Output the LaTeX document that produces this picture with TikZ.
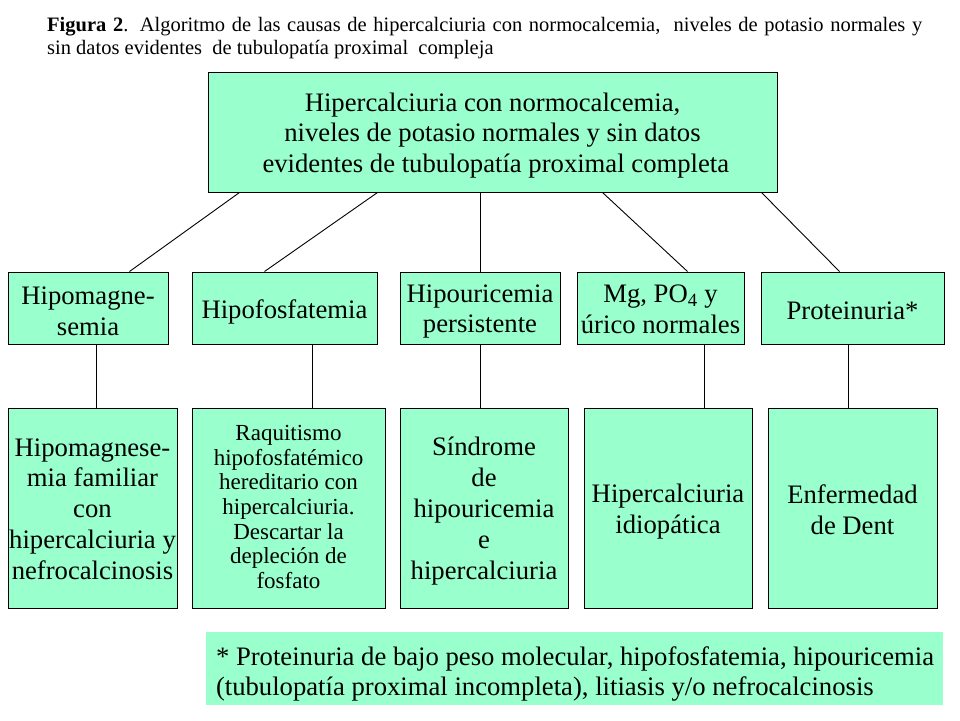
\documentclass[tikz,border=0pt]{standalone}
\usepackage{fontspec}
\setmainfont{Liberation Serif}
\definecolor{mint}{HTML}{99FFCC}
\begin{document}
\begin{tikzpicture}[x=1pt,y=-1pt,
  box/.style={draw=black, line width=1pt, fill=mint, inner sep=0pt},
  lbl/.style={inner sep=0pt, align=center, font=\fontsize{26.67}{30.8}\selectfont},
  smalllbl/.style={lbl, font=\fontsize{23}{24.7}\selectfont},
  conn/.style={line width=0.9pt, draw=black}]
\useasboundingbox (0,0) rectangle (960,720);

\node[anchor=north west, inner sep=0pt, align=left, font=\fontsize{20.5}{23}\selectfont] (title) at (47,17.5)
  {\makebox[875pt][s]{\textbf{Figura 2}. Algoritmo de las causas de hipercalciuria\ con normocalcemia,\ \ niveles de potasio normales y}\\
   sin datos evidentes\ \ de tubulopatía proximal\ \ compleja};

% boxes
\node[box, minimum width=569pt, minimum height=120pt] (top) at (492.5,132) {};
\node[box, minimum width=160pt, minimum height=72pt] (m1) at (88,308) {};
\node[box, minimum width=185pt, minimum height=72pt] (m2) at (284.5,308) {};
\node[box, minimum width=160pt, minimum height=72pt] (m3) at (480,308) {};
\node[box, minimum width=167pt, minimum height=72pt] (m4) at (660.5,308) {};
\node[box, minimum width=183pt, minimum height=72pt] (m5) at (852.5,308) {};
\node[box, minimum width=169pt, minimum height=200pt] (b1) at (92.5,508) {};
\node[box, minimum width=193pt, minimum height=200pt] (b2) at (288.5,508) {};
\node[box, minimum width=168pt, minimum height=200pt] (b3) at (484,508) {};
\node[box, minimum width=168pt, minimum height=200pt] (b4) at (668,508) {};
\node[box, minimum width=169pt, minimum height=200pt] (b5) at (852.5,508) {};
\node[fill=mint, minimum width=737pt, minimum height=73pt, inner sep=0pt] (note) at (574.5,668.5) {};

% texts
\node[lbl] (topt) at ([yshift=-3.5pt]top.center)
  {Hipercalciuria con normocalcemia,\\niveles de potasio normales y sin datos\\\ evidentes de tubulopatía proximal completa};
\node[lbl] (m1t) at ([yshift=-3pt]m1.center) {Hipomagne-\\semia};
\node[lbl] (m2t) at ([yshift=-3.5pt]m2.center) {Hipofosfatemia};
\node[lbl] (m3t) at ([yshift=-3.5pt]m3.center) {Hipouricemia\\persistente};
\node[lbl] (m4t) at ([yshift=-1.5pt]m4.center) {Mg, PO\textsubscript{4} y\\úrico normales};
\node[lbl] (m5t) at ([yshift=-3pt]m5.center) {Proteinuria*};
\node[lbl] (b1t) at ([yshift=-1pt]b1.center)
  {Hipomagnese-\\mia familiar\\con\\hipercalciuria y\\nefrocalcinosis};
\node[smalllbl] (b2t) at ([yshift=1pt]b2.center)
  {Raquitismo\\hipofosfatémico\\hereditario con\\hipercalciuria.\\Descartar la\\depleción de\\fosfato};
\node[lbl] (b3t) at ([yshift=-3pt]b3.center)
  {Síndrome\\de\\hipouricemia\\e\\hipercalciuria};
\node[lbl] (b4t) at ([yshift=-3.5pt]b4.center) {Hipercalciuria\\idiopática};
\node[lbl] (b5t) at ([yshift=-1.5pt]b5.center) {Enfermedad\\de Dent};
\node[lbl, anchor=west, align=left] (notet) at ([xshift=10pt,yshift=-5.5pt]note.west)
  {* Proteinuria de bajo peso molecular, hipofosfatemia, hipouricemia\\(tubulopatía proximal incompleta), litiasis y/o nefrocalcinosis};

% connectors
\draw[conn] ([xshift=32pt]top.south west) -- ([xshift=122pt]m1.north west);
\draw[conn] ([xshift=170pt]top.south west) -- ([xshift=73pt]m2.north west);
\draw[conn] (m3.north |- top.south) -- (m3.north);
\draw[conn] ([xshift=395pt]top.south west) -- ([xshift=111pt]m4.north west);
\draw[conn] ([xshift=554pt]top.south west) -- ([xshift=79pt]m5.north west);

\draw[conn] ([xshift=8pt]m1.south) -- ([xshift=3.5pt]b1.north);
\draw[conn] ([xshift=27.5pt]m2.south) -- ([xshift=23.5pt]b2.north);
\draw[conn] (m3.south) -- ([xshift=-4pt]b3.north);
\draw[conn] ([xshift=43.5pt]m4.south) -- ([xshift=36pt]b4.north);
\draw[conn] ([xshift=-4.5pt]m5.south) -- ([xshift=-4.5pt]b5.north);
\end{tikzpicture}
\end{document}
